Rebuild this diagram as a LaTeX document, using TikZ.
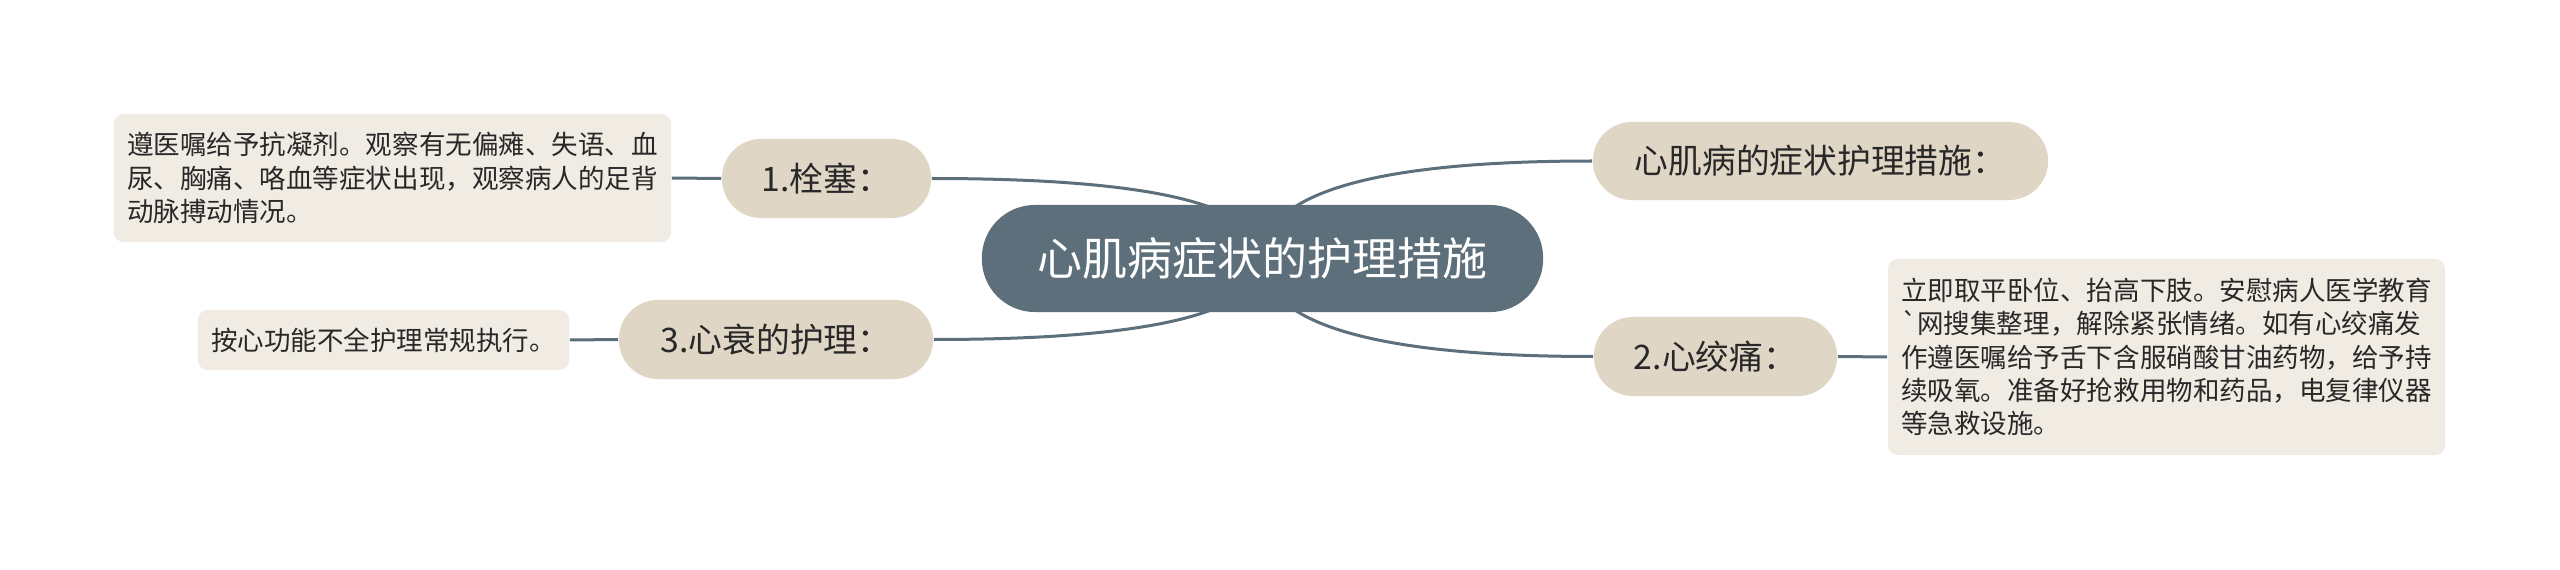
\documentclass[tikz,border=0pt]{standalone}
\usepackage{fontspec}
\setmainfont{Noto Sans CJK SC}
\usepackage{xcolor}
\usetikzlibrary{backgrounds}
\definecolor{rootfill}{RGB}{92,111,122}
\definecolor{branchfill}{RGB}{224,214,198}
\definecolor{leaffill}{RGB}{240,236,228}
\definecolor{linkcolor}{RGB}{92,111,122}
\definecolor{inkcolor}{RGB}{40,40,40}

\begin{document}
\begin{tikzpicture}[x=0.01cm,y=-0.01cm,
    rootnode/.style={fill=rootfill, text=white, rounded corners=0.53cm,
      minimum width=5.61cm, minimum height=1.07cm, inner sep=0pt,
      font=\fontsize{12.8}{15}\selectfont},
    branchnode/.style={fill=branchfill, text=inkcolor, rounded corners=0.39cm,
      minimum height=0.79cm, inner sep=0pt,
      font=\fontsize{9.6}{12}\selectfont},
    leafnode/.style={fill=leaffill, text=inkcolor, rounded corners=0.1cm,
      inner sep=0pt, align=left,
      font=\fontsize{7.54}{9.5}\selectfont},
    link/.style={draw=linkcolor, line width=0.03cm}]
            \useasboundingbox (0,0) rectangle (2560,570);%

            % Marking root
            \node [rootnode] (root) at (1262.5,258.5) {心肌病症状的护理措施};%

            % Marking branches
            \node [branchnode, minimum width=2.09cm] (b1) at (826.5,178.5) {1.栓塞：};%
            \node [branchnode, minimum width=3.14cm] (b3) at (776,339.5) {3.心衰的护理：};%
            \node [branchnode, minimum width=4.55cm, minimum height=0.78cm] (b0) at (1820.5,161) {心肌病的症状护理措施：};%
            \node [branchnode, minimum width=2.43cm] (b2) at (1715.5,356.5) {2.心绞痛：};%

            % Marking leaves
            \node [leafnode, minimum width=5.57cm, minimum height=1.28cm] (leaf1) at (392.5,178)
              {遵医嘱给予抗凝剂。观察有无偏瘫、失语、血\\尿、胸痛、咯血等症状出现，观察病人的足背\\动脉搏动情况。};%
            \node [leafnode, minimum width=3.71cm, minimum height=0.60cm] (leaf3) at (383.5,340)
              {按心功能不全护理常规执行。};%
            \node [leafnode, minimum width=5.57cm, minimum height=1.96cm] (leaf2) at (2166.5,357)
              {立即取平卧位、抬高下肢。安慰病人医学教育\\\textasciigrave 网搜集整理，解除紧张情绪。如有心绞痛发\\作遵医嘱给予舌下含服硝酸甘油药物，给予持\\续吸氧。准备好抢救用物和药品，电复律仪器\\等急救设施。};%

            \begin{pgfonlayer}{background}
            \fill [white] (0,0) rectangle (2560,570);%

            % Drawing links from root
            \draw [link] (root.center) .. controls +(0,-54) and +(220,0) .. (b1.east);%
            \draw [link] (root.center) .. controls +(0,54) and +(220,0) .. (b3.east);%
            \draw [link] (root.center) .. controls +(0,-65) and +(-220,0) .. (b0.west);%
            \draw [link] (root.center) .. controls +(0,65) and +(-220,0) .. (b2.west);%

            % Drawing links to leaves
            \draw [link] (b1.west) -- (leaf1.east);%
            \draw [link] (b3.west) -- (leaf3.east);%
            \draw [link] (b2.east) -- (leaf2.west);%
            \end{pgfonlayer}
        \end{tikzpicture}
\end{document}
